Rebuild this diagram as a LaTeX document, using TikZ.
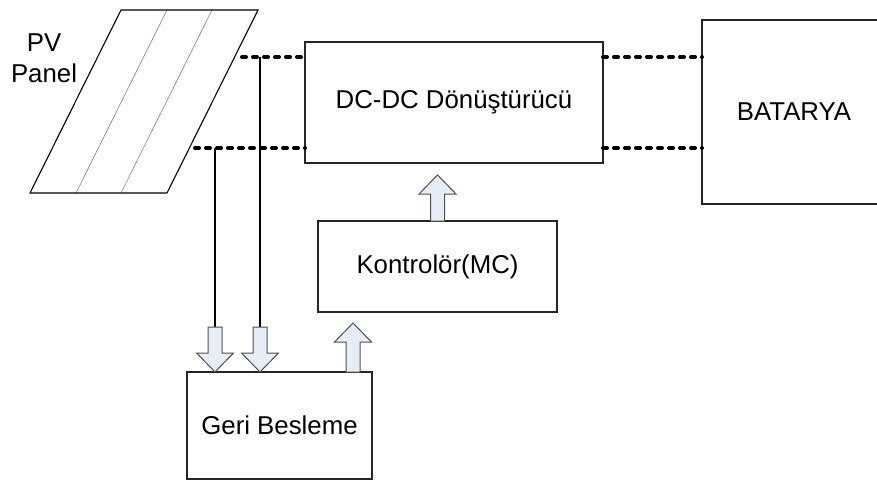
\documentclass[tikz,border=0pt]{standalone}
\usepackage{fontspec}
\setmainfont{Liberation Sans}
\usetikzlibrary{calc}
\definecolor{arrowfill}{HTML}{E6EDF7}
\definecolor{arrowline}{HTML}{505050}
\tikzset{
  x=1pt, y=-1pt,
  blk/.style={draw=black!85, line width=1.2pt, fill=white, inner sep=0pt, outer sep=0pt,
              align=center, font=\fontsize{25.8}{31}\selectfont},
  busline/.style={line width=4pt, dash pattern=on 4pt off 7pt, line cap=round, black},
  probe/.style={line width=2pt, black},
  barrowsty/.style={draw=arrowline, line width=1pt, fill=arrowfill, line join=miter},
  pics/uparrow/.style={code={
    \draw[barrowsty] (-7,0) -- (-7,-#1+19) -- (-18.5,-#1+19) -- (0,-#1)
      -- (18.5,-#1+19) -- (7,-#1+19) -- (7,0) -- cycle;}},
  pics/downarrow/.style={code={
    \draw[barrowsty] (-7,0) -- (-7,#1-19) -- (-18.5,#1-19) -- (0,#1)
      -- (18.5,#1-19) -- (7,#1-19) -- (7,0) -- cycle;}},
}
\begin{document}
\begin{tikzpicture}
\useasboundingbox (0,0) rectangle (877,480);

% solar panel: parallelogram split into three cells
\coordinate (pa) at (121,10);
\coordinate (pb) at (258,10);
\coordinate (pc) at (167,193);
\coordinate (pd) at (30,193);
\draw[gray, line width=0.6pt] (167,10) -- (76,193) (212,10) -- (121,193);
\draw[black, line width=1.1pt, line join=miter] (pa) -- (pb) -- (pc) -- (pd) -- cycle;
\node[font=\fontsize{25.8}{31}\selectfont, align=center, inner sep=0pt] (pvlabel) at (44,58) {PV\\Panel};

% blocks
\node[blk, minimum width=298, minimum height=121] (dc) at (454,102.5) {DC-DC Dönüştürücü};
\node[blk, minimum width=184, minimum height=184] (bat) at (794,112) {BATARYA};
\node[blk, minimum width=239, minimum height=91] (kon) at (437.5,266.5) {Kontrolör(MC)};
\node[blk, minimum width=185, minimum height=107] (gb) at (279.5,425.5) {Geri Besleme};

% panel terminals
\coordinate (ptop) at (242,57);
\coordinate (pbot) at (195,148);

% DC bus lines
\draw[busline] (ptop) -- (ptop -| dc.west);
\draw[busline] (pbot) -- (pbot -| dc.west);
\draw[busline] (ptop -| dc.east) -- (ptop -| bat.west);
\draw[busline] (pbot -| dc.east) -- (pbot -| bat.west);

% voltage and current sensing taps
\coordinate (tapv) at (260,57);
\coordinate (tapi) at (215,148);
\coordinate (endv) at (260,327);
\coordinate (endi) at (215,327);
\draw[probe] (tapv) -- (endv);
\draw[probe] (tapi) -- (endi);

% block arrows
\pic at (endi) {downarrow=45};
\pic at (endv) {downarrow=45};
\pic at ($(gb.north east)+(-19,0)$) {uparrow=49};
\pic at (kon.north) {uparrow=46};
\end{tikzpicture}
\end{document}
